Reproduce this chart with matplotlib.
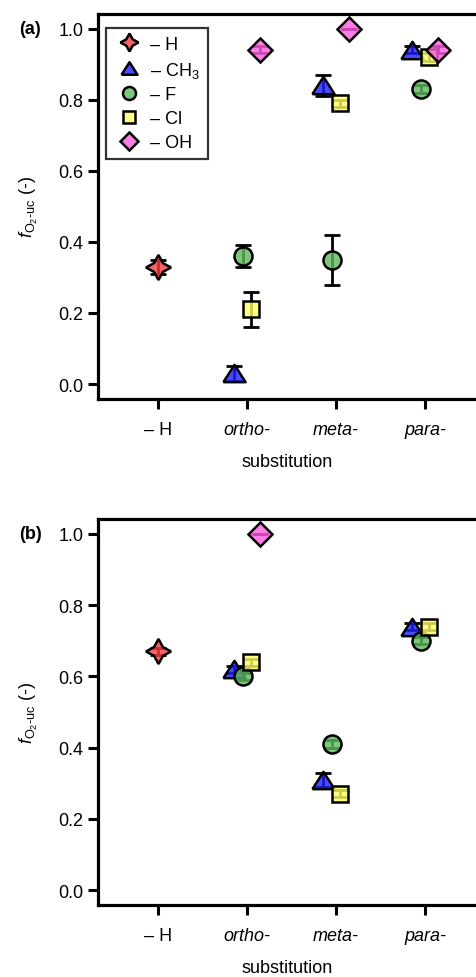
import matplotlib
matplotlib.use("Agg")
import matplotlib.pyplot as plt
import numpy as np

plt.rcParams["font.family"] = ["Liberation Sans", "DejaVu Sans"]
plt.rcParams["mathtext.fontset"] = "custom"
plt.rcParams["mathtext.rm"] = "Liberation Sans"
plt.rcParams["mathtext.it"] = "Liberation Sans:italic"

CATEGORIES = ["– H", "ortho-", "meta-", "para-"]
SPECIES = ["H", "CH3", "F", "Cl", "OH"]
LABELS = ["– H", "– CH$_3$", "– F", "– Cl", "– OH"]

# panel (a): values for [–H, ortho, meta, para]; nan = not measured
A_H = [0.33, np.nan, np.nan, np.nan]
A_H_ERR = [0.02, 0, 0, 0]
A_CH3 = [np.nan, 0.03, 0.84, 0.94]
A_CH3_ERR = [0, 0.02, 0.03, 0.01]
A_F = [np.nan, 0.36, 0.35, 0.83]
A_F_ERR = [0, 0.03, 0.07, 0.01]
A_CL = [np.nan, 0.21, 0.79, 0.92]
A_CL_ERR = [0, 0.05, 0.01, 0.01]
A_OH = [np.nan, 0.94, 1.00, 0.94]
A_OH_ERR = [0, 0.01, 0.0, 0.01]

# panel (b)
B_H = [0.67, np.nan, np.nan, np.nan]
B_H_ERR = [0.01, 0, 0, 0]
B_CH3 = [np.nan, 0.62, 0.31, 0.74]
B_CH3_ERR = [0, 0.01, 0.02, 0.01]
B_F = [np.nan, 0.60, 0.41, 0.70]
B_F_ERR = [0, 0.01, 0.01, 0.01]
B_CL = [np.nan, 0.64, 0.27, 0.74]
B_CL_ERR = [0, 0.01, 0.01, 0.01]
B_OH = [np.nan, 1.00, np.nan, np.nan]
B_OH_ERR = [0, 0.0, 0, 0]

# styles
TRI = [(-1.0, -0.78), (1.0, -0.78), (0.0, 0.78), (-1.0, -0.78)]
OFFSET = {"H": 0.0, "CH3": -0.15, "F": -0.05, "Cl": 0.05, "OH": 0.15}
MARKER = {"H": (4, 1, 0), "CH3": TRI, "F": "o", "Cl": "s", "OH": "D"}
MSIZE = {"H": 18, "CH3": 16, "F": 13, "Cl": 11.5, "OH": 12.5}
COLOR = {"H": "#f63c3c", "CH3": "#1f1fff", "F": "#5cba5c", "Cl": "#ffff66", "OH": "#ff5ce0"}
FS = 13


def draw(ax, series, errs, tag):
    x0 = np.arange(1, len(CATEGORIES) + 1)
    for sp, vals, err in zip(SPECIES, series, errs):
        vals = np.asarray(vals, float)
        x = x0 + OFFSET[sp]
        ax.errorbar(x, vals, yerr=err, fmt="none", ecolor="k", elinewidth=2.0,
                    capsize=6, capthick=2.0, zorder=2)
        fc = matplotlib.colors.to_rgba(COLOR[sp], 0.8)
        ax.plot(x, vals, ls="none", marker=MARKER[sp], ms=MSIZE[sp], mfc=fc,
                mec="k", mew=1.8, zorder=3)
    ax.set_xlim(0.326, 4.573)
    ax.set_ylim(-0.042, 1.042)
    ax.set_yticks([0.0, 0.2, 0.4, 0.6, 0.8, 1.0])
    ax.set_yticklabels([f"{v:.1f}" for v in [0.0, 0.2, 0.4, 0.6, 0.8, 1.0]])
    ax.set_xticks(x0)
    ax.set_xticklabels(CATEGORIES)
    for i, t in enumerate(ax.get_xticklabels()):
        if i > 0:
            t.set_fontstyle("italic")
    for s in ["left", "bottom", "top"]:
        ax.spines[s].set_linewidth(2.3)
    ax.spines["right"].set_visible(False)
    ax.tick_params(width=2.2, length=7.5, labelsize=FS, pad=3)
    ax.tick_params(axis="x", pad=8)
    ax.set_xlabel("substitution", fontsize=FS, labelpad=11)
    ax.set_ylabel(r"$f_{\mathrm{O_2}\text{-}\mathrm{uc}}$ (-)", fontsize=FS, labelpad=13)
    ax.text(-0.18, 1.0, tag, transform=ax.get_yaxis_transform(), fontsize=FS,
            fontweight="bold", ha="center", va="center")


fig = plt.figure(figsize=(4.76, 9.78), dpi=100)
ax_a = fig.add_axes([0.206, 0.591, 0.794, 0.394])
ax_b = fig.add_axes([0.206, 0.0736, 0.794, 0.3947])

draw(ax_a, [A_H, A_CH3, A_F, A_CL, A_OH],
     [A_H_ERR, A_CH3_ERR, A_F_ERR, A_CL_ERR, A_OH_ERR], "(a)")
draw(ax_b, [B_H, B_CH3, B_F, B_CL, B_OH],
     [B_H_ERR, B_CH3_ERR, B_F_ERR, B_CL_ERR, B_OH_ERR], "(b)")

handles = [plt.Line2D([], [], ls="none", marker=MARKER[sp], ms=MSIZE[sp] * 0.72,
                      mfc=matplotlib.colors.to_rgba(COLOR[sp], 0.8), mec="k", mew=1.8)
           for sp in SPECIES]
leg = ax_a.legend(handles, LABELS, loc="upper left", bbox_to_anchor=(0.021, 0.964),
                  fontsize=FS, frameon=True, fancybox=False, edgecolor="k",
                  borderaxespad=0, handletextpad=0.4, labelspacing=0.38,
                  borderpad=0.45, handlelength=1.6)
leg.get_frame().set_linewidth(1.6)

fig.savefig("out.png", dpi=100)
